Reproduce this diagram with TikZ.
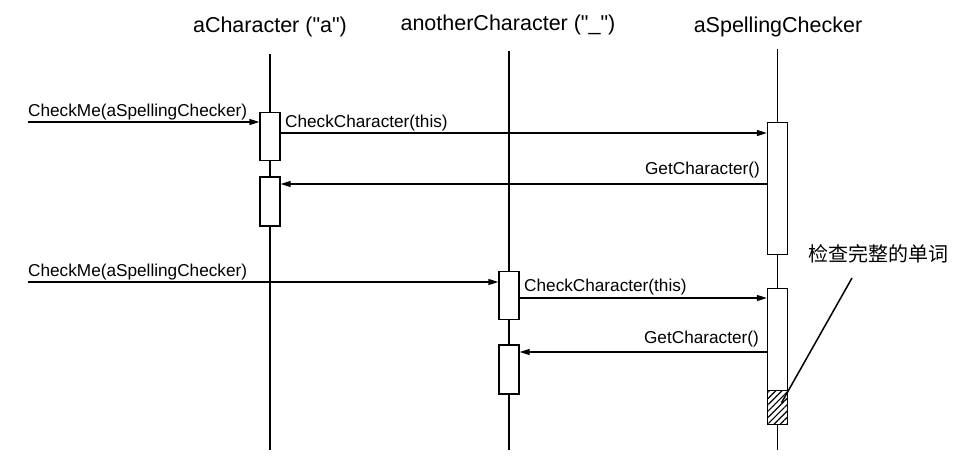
\documentclass[tikz,border=0pt]{standalone}
\usepackage{fontspec}
\setmainfont{Liberation Sans}
\newfontfamily\cjk{Noto Sans CJK SC}
\usetikzlibrary{positioning, calc, arrows.meta, patterns.meta}

\begin{document}
\begin{tikzpicture}[x=1pt, y=-1pt,
  obj/.style={font=\fontsize{21.5}{24}\selectfont, inner sep=0pt},
  life/.style={line width=1.3pt},
  act/.style={draw, fill=white, line width=1.3pt, minimum width=20pt, inner sep=0pt, anchor=north},
  msg/.style={line width=1.3pt, -{Triangle[length=10pt,width=6pt]}},
  lbl/.style={font=\fontsize{17.2}{19}\selectfont, inner sep=0pt}]
\useasboundingbox (0,0) rectangle (971,460);

% objects and their lifelines
\node[obj] (hA) at (270,27) {aCharacter (\textquotedbl a\textquotedbl)};
\node[obj] (hB) at (508,25) {anotherCharacter (\textquotedbl\_\textquotedbl)};
\node[obj] (hC) at (778,27) {aSpellingChecker};
\coordinate (tA) at (270,54);
\coordinate (bA) at (270,450);
\coordinate (tB) at (509,51);
\coordinate (bB) at (509,450);
\coordinate (tC) at (777.5,49);
\coordinate (bC) at (777.5,450);
\draw[life] (tA) -- (bA);
\draw[life] (tB) -- (bB);
\draw[life] (tC) -- (bC);

% activations
\node[act, minimum height=48pt] (a1) at (270,112) {};
\node[act, minimum height=49pt, below=15pt of a1] (a2) {};
\node[act, minimum height=132pt] (s1) at (777.5,122) {};
\node[act, minimum height=48pt] (b1) at (509,271) {};
\node[act, minimum height=49pt, below=24pt of b1] (b2) {};
\node[act, minimum height=136pt] (s2) at (777.5,288) {};
\node[act, fill=none, pattern={Lines[angle=45,distance=4.5pt,line width=1.2pt]}, minimum height=34pt, anchor=south] (s2h) at (s2.south) {};

% first word
\coordinate (in1) at (28,122);
\draw[msg] (in1) -- (in1 -| a1.west);
\node[lbl, anchor=base west] (l1) at (28,116) {CheckMe(aSpellingChecker)};
\draw[msg] ([yshift=-21pt]a1.north east) -- ([yshift=-21pt]a1.north east -| s1.west);
\node[lbl, anchor=base west] (l2) at (285,127) {CheckCharacter(this)};
\draw[msg] ([yshift=-62pt]s1.north west) -- ([yshift=-62pt]s1.north west -| a2.east);
\node[lbl, anchor=base east] (l3) at (760,174) {GetCharacter()};

% second word
\coordinate (in2) at (28,282);
\draw[msg] (in2) -- (in2 -| b1.west);
\node[lbl, anchor=base west] (l4) at (28,276) {CheckMe(aSpellingChecker)};
\draw[msg] ([yshift=-27pt]b1.north east) -- ([yshift=-27pt]b1.north east -| s2.west);
\node[lbl, anchor=base west] (l5) at (524,291) {CheckCharacter(this)};
\draw[msg] ([yshift=-64pt]s2.north west) -- ([yshift=-64pt]s2.north west -| b2.east);
\node[lbl, anchor=base east] (l6) at (759,343) {GetCharacter()};

% note
\node[font=\cjk\fontsize{20}{22}\selectfont, anchor=west, inner sep=0pt] (note) at (808,254) {检查完整的单词};
\coordinate (ns) at (852,278);
\coordinate (ne) at ([xshift=4pt,yshift=5pt]s2h.center);
\draw[line width=1.5pt] (ns) -- (ne);
\end{tikzpicture}
\end{document}
